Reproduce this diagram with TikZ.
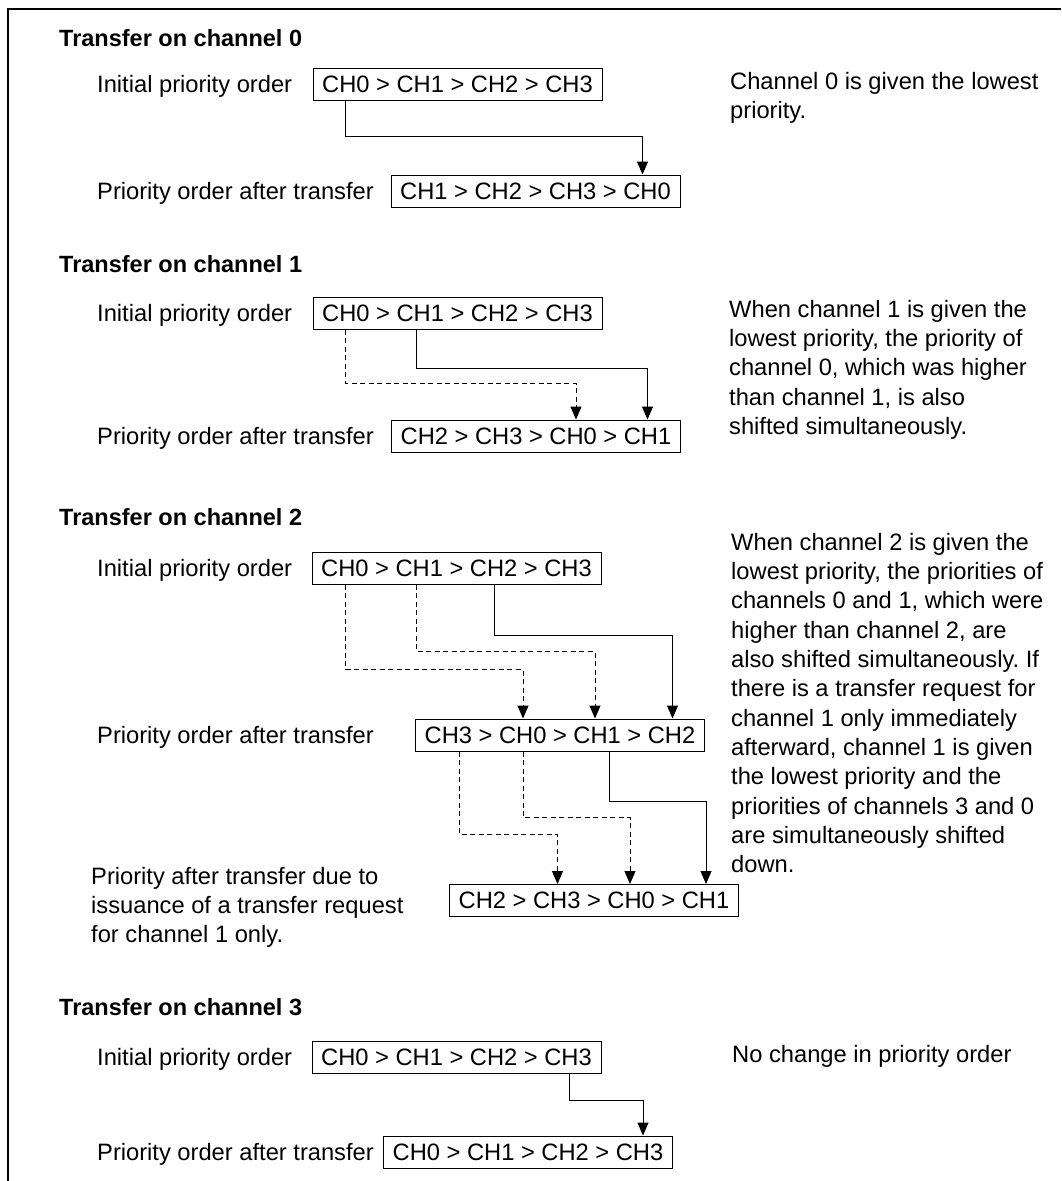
\documentclass[tikz,border=0pt]{standalone}
\usepackage{fontspec}
\setmainfont{Liberation Sans}
\usetikzlibrary{arrows.meta}
\frenchspacing
\begin{document}
\begin{tikzpicture}[x=1pt,y=-1pt,
  every node/.style={font=\fontsize{23.7}{29.3}\selectfont, inner sep=0pt},
  prio/.style={draw, line width=1pt, minimum width=289pt, minimum height=32pt},
  lbl/.style={anchor=base west},
  ttl/.style={anchor=base west, font=\fontsize{23.5}{29.3}\selectfont\bfseries},
  note/.style={anchor=north west, align=left},
  conn/.style={line width=1pt, -{Triangle[length=13pt,width=11pt]}},
  dconn/.style={conn, dash pattern=on 5pt off 3.5pt},
]
\useasboundingbox (0,0) rectangle (1061,1181);
\fill[white] (0,0) rectangle (1061,1181);
\draw[line width=2pt] (8,1181) -- (8,9) -- (1061,9);

% ---- channel 0
\node[ttl] (t0) at (59,46) {Transfer on channel 0};
\node[prio] (a0) at (457.5,84) {CH0 > CH1 > CH2 > CH3};
\node[lbl] (l0a) at (97,92.5) {Initial priority order};
\node[prio] (b0) at (535.5,191) {CH1 > CH2 > CH3 > CH0};
\node[lbl] (l0b) at (97,199.5) {Priority order after transfer};
\node[note] (n0) at (730,72) {Channel 0 is given the lowest\\priority.};
\draw[conn] ([xshift=33pt]a0.south west) -- ++(0,36) -| ([xshift=252pt]b0.north west);

% ---- channel 1
\node[ttl] (t1) at (59,272.5) {Transfer on channel 1};
\node[prio] (a1) at (457.5,313) {CH0 > CH1 > CH2 > CH3};
\node[lbl] (l1a) at (97,321.5) {Initial priority order};
\node[prio] (b1) at (536,436) {CH2 > CH3 > CH0 > CH1};
\node[lbl] (l1b) at (97,444.5) {Priority order after transfer};
\node[note] (n1) at (729,300) {When channel 1 is given the\\lowest priority, the priority of\\channel 0, which was higher\\than channel 1, is also\\shifted simultaneously.};
\draw[dconn] ([xshift=33pt]a1.south west) -- ++(0,53.5) -| ([xshift=185pt]b1.north west);
\draw[conn] ([xshift=104pt]a1.south west) -- ++(0,39) -| ([xshift=256.5pt]b1.north west);

% ---- channel 2
\node[ttl] (t2) at (59,525.5) {Transfer on channel 2};
\node[prio] (a2) at (456.5,568) {CH0 > CH1 > CH2 > CH3};
\node[lbl] (l2a) at (97,576.5) {Initial priority order};
\node[prio] (b2) at (560,735) {CH3 > CH0 > CH1 > CH2};
\node[lbl] (l2b) at (97,743.5) {Priority order after transfer};
\node[prio] (c2) at (594,900.5) {CH2 > CH3 > CH0 > CH1};
\node[note] (l2c) at (91,867) {Priority after transfer due to\\issuance of a transfer request\\for channel 1 only.};
\node[note] (n2) at (731,533) {When channel 2 is given the\\lowest priority, the priorities of\\channels 0 and 1, which were\\higher than channel 2, are\\also shifted simultaneously. If\\there is a transfer request for\\channel 1 only immediately\\afterward, channel 1 is given\\the lowest priority and the\\priorities of channels 3 and 0\\are simultaneously shifted\\down.};
\draw[dconn] ([xshift=34pt]a2.south west) -- ++(0,85) -| ([xshift=108pt]b2.north west);
\draw[dconn] ([xshift=105pt]a2.south west) -- ++(0,67) -| ([xshift=180pt]b2.north west);
\draw[conn] ([xshift=183pt]a2.south west) -- ++(0,51) -| ([xshift=257.5pt]b2.north west);
\draw[dconn] ([xshift=44pt]b2.south west) -- ++(0,82.5) -| ([xshift=108.5pt]c2.north west);
\draw[dconn] ([xshift=108pt]b2.south west) -- ++(0,66) -| ([xshift=181pt]c2.north west);
\draw[conn] ([xshift=194pt]b2.south west) -- ++(0,49.5) -| ([xshift=257pt]c2.north west);

% ---- channel 3
\node[ttl] (t3) at (59,1015.5) {Transfer on channel 3};
\node[prio] (a3) at (456.5,1057) {CH0 > CH1 > CH2 > CH3};
\node[lbl] (l3a) at (97,1065.5) {Initial priority order};
\node[prio] (b3) at (528,1152) {CH0 > CH1 > CH2 > CH3};
\node[lbl] (l3b) at (97,1160.5) {Priority order after transfer};
\node[note] (n3) at (732,1045) {No change in priority order};
\draw[conn] ([xshift=258pt]a3.south west) -- ++(0,27) -| ([xshift=260pt]b3.north west);
\end{tikzpicture}
\end{document}
